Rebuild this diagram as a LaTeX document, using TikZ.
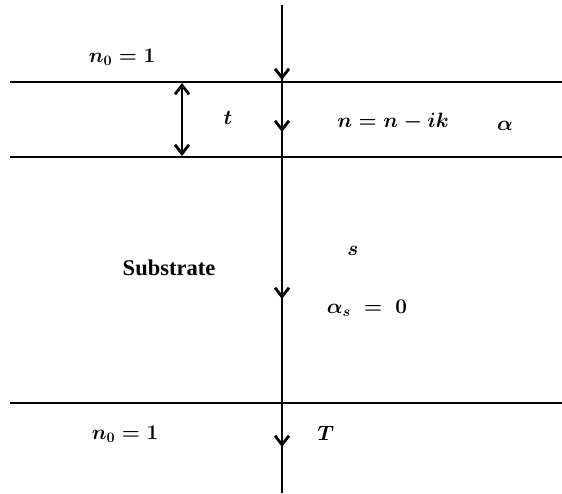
\documentclass[tikz,border=0pt]{standalone}
\usepackage{amsmath,amssymb}
\usepackage{bm}
\usepackage{fontspec}
\setmainfont{Liberation Serif}
\usetikzlibrary{arrows.meta}

\tikzset{
  ray/.style={line width=2.8pt,-{Straight Barb[length=9pt,width=14pt,line width=2.8pt]}},
  lbl/.style={font=\fontsize{21}{25}\selectfont\boldmath},
}

\begin{document}
\begin{tikzpicture}[x=1pt,y=-1pt]
    \useasboundingbox (0,0) rectangle (562,493);

    % Interfaces
    \draw[line width=2.8pt] (10,82) -- (562,82);
    \draw[line width=2.8pt] (10,157) -- (562,157);
    \draw[line width=2.8pt] (10,403) -- (562,403);

    % Light beam
    \draw[line width=2.8pt] (282,5) -- (282,493);
    \coordinate (b1) at (282,80);
    \coordinate (b2) at (282,132);
    \coordinate (b3) at (282,299);
    \coordinate (b4) at (282,447);
    \draw[ray] ([yshift=12pt]b1) -- (b1);
    \draw[ray] ([yshift=12pt]b2) -- (b2);
    \draw[ray] ([yshift=12pt]b3) -- (b3);
    \draw[ray] ([yshift=12pt]b4) -- (b4);

    % Thickness
    \coordinate (ttop) at (182,83);
    \coordinate (tbot) at (182,156);
    \draw[line width=2.8pt,{Straight Barb[length=9pt,width=14pt,line width=2.8pt]}-{Straight Barb[length=9pt,width=14pt,line width=2.8pt]}] (ttop) -- (tbot);
    \node[lbl] (t) at (228,118) {$t$};

    % Labels
    \node[lbl] (n0top) at (122,57) {$n_0 = 1$};
    \node[lbl] (nfilm) at (393,122) {$n = n - ik$};
    \node[lbl] (alpha) at (505,126) {$\alpha$};
    \node[font=\fontsize{22.5}{27}\selectfont\bfseries] (subs) at (169,268) {Substrate};
    \node[lbl] (s) at (353,251) {$s$};
    \node[lbl] (alphas) at (367,308) {$\alpha_s \;=\; 0$};
    \node[lbl] (n0bot) at (125,434) {$n_0 = 1$};
    \node[lbl] (T) at (326,433) {$T$};
\end{tikzpicture}
\end{document}
